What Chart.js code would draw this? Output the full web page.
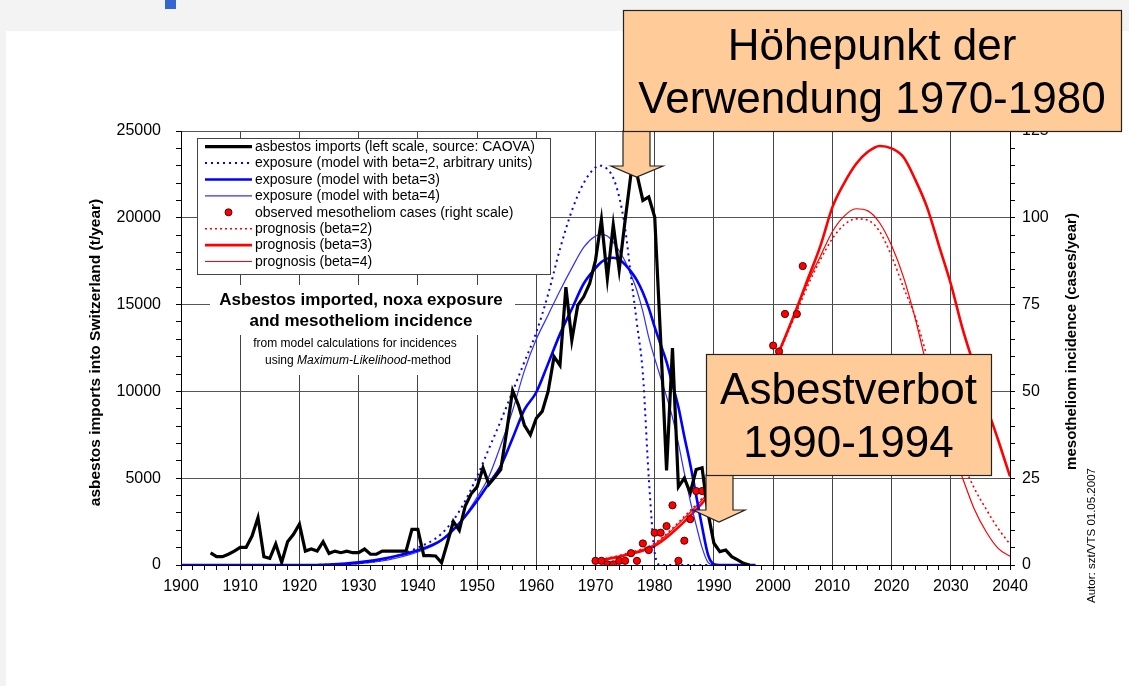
<!DOCTYPE html>
<html>
<head>
<meta charset="utf-8">
<script src="https://cdn.jsdelivr.net/npm/chart.js@4.4.1/dist/chart.umd.min.js"></script>
<style>
  html, body { margin: 0; padding: 0; background: #f3f3f3; }
  canvas { display: block; }
</style>
</head>
<body>
<canvas id="chart" width="1129" height="686"></canvas>
<script>
// asbestos imports into Switzerland (t/year), left scale
const importYears = [1905, 1906, 1907, 1908, 1909, 1910, 1911, 1912, 1913, 1914, 1915, 1916, 1917, 1918, 1919,
  1920, 1921, 1922, 1923, 1924, 1925, 1926, 1927, 1928, 1929, 1930, 1931, 1932, 1933, 1934, 1935, 1936, 1937,
  1938, 1939, 1940, 1941, 1942, 1943, 1944, 1945, 1946, 1947, 1948, 1949, 1950, 1951, 1952, 1953, 1954, 1955,
  1956, 1957, 1958, 1959, 1960, 1961, 1962, 1963, 1964, 1965, 1966, 1967, 1968, 1969, 1970, 1971, 1972, 1973,
  1974, 1975, 1976, 1977, 1978, 1979, 1980, 1981, 1982, 1983, 1984, 1985, 1986, 1987, 1988, 1989, 1990, 1991,
  1992, 1993, 1994, 1995, 1996];
const importValues = [700, 480, 480, 620, 800, 1020, 1020, 1670, 2730, 480, 380, 1210, 150, 1340, 1770,
  2360, 800, 920, 800, 1340, 670, 800, 710, 800, 710, 710, 920, 620, 620, 800, 800, 800, 800,
  800, 2050, 2050, 540, 540, 520, 130, 1300, 2500, 2000, 3400, 4100, 4500, 5600, 4650, 5050, 5500, 7700,
  10050, 9200, 8050, 7500, 8450, 8850, 10000, 12000, 11500, 16000, 12950, 14950, 15450, 16200, 17550, 19900, 16500, 19600,
  17000, 19850, 22550, 22500, 21000, 21200, 20050, 13000, 5450, 12500, 4500, 5000, 4150, 5500, 5600, 3000, 1250, 770,
  860, 480, 300, 100, 0];

// model exposure (arbitrary units on left scale)
const exposureYears = [1900, 1920, 1925, 1930, 1935, 1940, 1944, 1947, 1950, 1952, 1954, 1956, 1958, 1960,
  1962, 1964, 1966, 1968, 1970, 1971, 1972, 1973, 1974, 1975, 1976, 1977, 1978, 1979, 1980, 1981, 1982,
  1983, 1984, 1985, 1986, 1987, 1988, 1989, 1990, 1991, 1997];
const exposureBeta2 = [0, 0, 20, 100, 380, 1000, 1800, 3100, 5100, 6700, 8300, 10000, 11700, 13400,
  15600, 18200, 20400, 22000, 22900, 23000, 22800, 22300, 21200, 19400, 16600, 13900, 11000, 5000, 700, 0, 0,
  0, 0, 0, 0, 0, 0, 0, 0, 0, 0];
const exposureBeta3 = [0, 0, 30, 150, 420, 850, 1440, 2400, 3700, 4700, 5700, 7300, 8950, 9950,
  11600, 13300, 14750, 16200, 17100, 17450, 17650, 17700, 17600, 17300, 16900, 16400, 15700, 14800, 13700, 12700, 11700,
  10400, 9100, 7400, 5800, 4000, 2200, 600, 50, 0, 0];
const exposureBeta4 = [0, 0, 10, 80, 300, 750, 1400, 2400, 3900, 5100, 6900, 8900, 11200, 13000,
  14400, 15800, 17100, 18300, 18950, 19050, 18950, 18600, 18100, 17500, 16700, 15800, 14600, 13100, 11900, 10800, 9700,
  8500, 7000, 5300, 3700, 2300, 1000, 150, 0, 0, 0];

// observed mesotheliom cases (right scale)
const observedYears = [1970, 1971, 1972, 1973, 1974, 1975, 1976, 1977, 1978, 1979, 1980, 1981, 1982, 1983,
  1984, 1985, 1986, 1987, 1988, 2000, 2001, 2002, 2004, 2005];
const observedCases = [1.2, 1.2, 0.2, 0.2, 1.2, 1.2, 3.4, 1.2, 6.2, 4.3, 9.3, 9.3, 11.2, 17.2,
  1.2, 7, 13.2, 21.3, 21.3, 63.2, 61.5, 72.3, 72.3, 86.1];

// prognosis of incidence (right scale)
const prognosisYears = [1970, 1975, 1980, 1985, 1990, 1995, 2000, 2002, 2004, 2006, 2008, 2010, 2012, 2014,
  2016, 2018, 2020, 2022, 2024, 2026, 2028, 2030, 2032, 2034, 2036, 2038, 2040];
const prognosisBeta2 = [1.3, 3.2, 6.3, 14, 23.5, 38.5, 57, 65, 73, 81, 88, 94, 98, 99.7,
  99.3, 96, 89, 80, 71.5, 60, 48.5, 38, 29.5, 22, 16, 10.5, 6];
const prognosisBeta3 = [1, 2.8, 5.5, 12.5, 22, 37, 57.5, 65.5, 74, 83, 92, 103, 110, 115.5,
  119, 120.7, 120, 117.5, 111, 103, 92, 81, 68, 57, 46, 36, 25.5];
const prognosisBeta4 = [1.2, 3, 6, 13.5, 23, 38, 57, 65.5, 74, 82, 89, 96, 100.5, 102.6,
  102, 98.5, 92, 83, 71, 57, 45.5, 34, 25, 16, 9.5, 4.8, 2.5];

const FONT = "'Liberation Sans', Arial, Helvetica, sans-serif";
const pts = (xs, ys) => xs.map((x, i) => ({ x: x, y: ys[i] }));

// page background, title block, legend, labels and the two callouts
const decor = {
  id: 'decor',
  beforeDraw(chart) {
    const c = chart.ctx;
    c.save();
    c.fillStyle = '#f3f3f3';
    c.fillRect(0, 0, 1129, 686);
    c.fillStyle = '#ffffff';
    c.fillRect(6, 31, 1123, 655);
    c.fillStyle = '#3566d0';
    c.fillRect(165, 0, 11, 9);
    c.restore();
  },
  beforeDatasetsDraw(chart) {
    const c = chart.ctx;
    c.save();
    c.fillStyle = '#ffffff';
    c.fillRect(210, 285, 305, 50);
    c.fillRect(245, 335, 225, 40);
    c.fillStyle = '#000';
    c.textAlign = 'center';
    c.textBaseline = 'middle';
    c.font = 'bold 17px ' + FONT;
    c.fillText('Asbestos imported, noxa exposure', 361, 300);
    c.fillText('and mesotheliom incidence', 361, 321);
    c.font = '12px ' + FONT;
    c.fillText('from model calculations for incidences', 355, 344);
    // mixed upright / italic line
    const parts = [['using ', '12px '], ['Maximum-Likelihood', 'italic 12px '], ['-method', '12px ']];
    let total = 0;
    parts.forEach(p => { c.font = p[1] + FONT; total += c.measureText(p[0]).width; });
    let x = 358 - total / 2;
    c.textAlign = 'left';
    parts.forEach(p => { c.font = p[1] + FONT; c.fillText(p[0], x, 361); x += c.measureText(p[0]).width; });
    c.restore();
  },
  afterDatasetsDraw(chart) {
    const c = chart.ctx;
    c.save();
    c.fillStyle = '#ffffff';
    c.fillRect(197, 138, 353, 136);
    c.strokeStyle = '#444';
    c.lineWidth = 1;
    c.strokeRect(197.5, 138.5, 353, 136);
    chart.data.datasets.forEach((ds, i) => {
      const y = 146.7 + i * 16.4;
      if (ds.showLine === false) {
        c.beginPath();
        c.arc(228.5, y, 3.5, 0, Math.PI * 2);
        c.fillStyle = ds.pointBackgroundColor;
        c.fill();
        c.strokeStyle = ds.pointBorderColor;
        c.lineWidth = 1;
        c.stroke();
      } else {
        c.beginPath();
        c.setLineDash(ds.borderDash || []);
        c.strokeStyle = ds.borderColor;
        c.lineWidth = ds.borderWidth;
        c.moveTo(205, y);
        c.lineTo(252, y);
        c.stroke();
        c.setLineDash([]);
      }
      c.fillStyle = '#000';
      c.font = '14px ' + FONT;
      c.textAlign = 'left';
      c.textBaseline = 'middle';
      c.fillText(ds.label, 255, y + 0.5);
    });
    c.restore();
  },
  afterDraw(chart) {
    const c = chart.ctx;
    const rotated = (text, x, y, font) => {
      c.save();
      c.translate(x, y);
      c.rotate(-Math.PI / 2);
      c.font = font;
      c.fillStyle = '#000';
      c.textAlign = 'center';
      c.textBaseline = 'middle';
      c.fillText(text, 0, 0);
      c.restore();
    };
    rotated('asbestos imports into Switzerland (t/year)', 95.5, 352.5, 'bold 15.5px ' + FONT);
    rotated('mesotheliom incidence (cases/year)', 1071.5, 341.5, 'bold 15px ' + FONT);
    rotated('Autor: szt/VTS 01.05.2007', 1091.5, 535.5, '11.5px ' + FONT);

    const callout = (box, ar, lines, cx) => {
      c.save();
      c.fillStyle = '#ffcc99';
      c.strokeStyle = '#222';
      c.lineWidth = 1.2;
      c.beginPath();
      c.moveTo(ar.l, box[3]);
      c.lineTo(ar.r, box[3]);
      c.lineTo(ar.r, ar.sb);
      c.lineTo(ar.hr, ar.sb);
      c.lineTo(ar.tx, ar.ty);
      c.lineTo(ar.hl, ar.sb);
      c.lineTo(ar.l, ar.sb);
      c.closePath();
      c.fill();
      c.stroke();
      c.fillRect(box[0], box[1], box[2] - box[0], box[3] - box[1]);
      c.strokeRect(box[0] + 0.5, box[1] + 0.5, box[2] - box[0], box[3] - box[1]);
      c.fillStyle = '#000';
      c.font = '44px ' + FONT;
      c.textAlign = 'center';
      c.textBaseline = 'alphabetic';
      lines.forEach(l => c.fillText(l[0], cx, l[1]));
      c.restore();
    };
    callout([623, 10, 1121, 131],
      { l: 623, r: 650, sb: 166, hl: 611, hr: 663, tx: 636.5, ty: 177 },
      [['Höhepunkt der', 60], ['Verwendung 1970-1980', 113]], 872);
    callout([706, 354, 991, 475],
      { l: 706, r: 733, sb: 510, hl: 693, hr: 745, tx: 719, ty: 522 },
      [['Asbestverbot', 404], ['1990-1994', 457]], 848.5);
  }
};

const tickFont = { family: FONT, size: 16 };

new Chart(document.getElementById('chart'), {
  type: 'line',
  data: {
    datasets: [
      {
        label: 'asbestos imports (left scale, source: CAOVA)',
        data: pts(importYears, importValues),
        borderColor: '#000000', borderWidth: 3.2, tension: 0,
        yAxisID: 'y', order: 0
      },
      {
        label: 'exposure (model with beta=2, arbitrary units)',
        data: pts(exposureYears, exposureBeta2),
        borderColor: '#0000ff', borderWidth: 2, borderDash: [2, 4],
        cubicInterpolationMode: 'monotone', yAxisID: 'y', order: 2
      },
      {
        label: 'exposure (model with beta=3)',
        data: pts(exposureYears, exposureBeta3),
        borderColor: '#0000ff', borderWidth: 2.6,
        cubicInterpolationMode: 'monotone', yAxisID: 'y', order: 2
      },
      {
        label: 'exposure (model with beta=4)',
        data: pts(exposureYears, exposureBeta4),
        borderColor: '#3030ff', borderWidth: 1.2,
        cubicInterpolationMode: 'monotone', yAxisID: 'y', order: 2
      },
      {
        label: 'observed mesotheliom cases (right scale)',
        data: pts(observedYears, observedCases),
        showLine: false, pointRadius: 3.6, pointBorderWidth: 1,
        pointBackgroundColor: '#ff0000', pointBorderColor: '#5a0000',
        yAxisID: 'y2', order: 1
      },
      {
        label: 'prognosis (beta=2)',
        data: pts(prognosisYears, prognosisBeta2),
        borderColor: '#ff0000', borderWidth: 1.6, borderDash: [2, 3],
        cubicInterpolationMode: 'monotone', yAxisID: 'y2', order: 3
      },
      {
        label: 'prognosis (beta=3)',
        data: pts(prognosisYears, prognosisBeta3),
        borderColor: '#ff0000', borderWidth: 2.6,
        cubicInterpolationMode: 'monotone', yAxisID: 'y2', order: 3
      },
      {
        label: 'prognosis (beta=4)',
        data: pts(prognosisYears, prognosisBeta4),
        borderColor: '#ff0000', borderWidth: 1.2,
        cubicInterpolationMode: 'monotone', yAxisID: 'y2', order: 3
      }
    ]
  },
  options: {
    responsive: false,
    devicePixelRatio: 1,
    animation: false,
    layout: { padding: { top: 131, left: 0, right: 0, bottom: 0 } },
    elements: { point: { radius: 0 } },
    plugins: { legend: { display: false }, tooltip: { enabled: false } },
    scales: {
      x: {
        type: 'linear', position: 'bottom', min: 1900, max: 2040,
        afterFit: s => { s.height = 121; },
        border: { display: true, color: '#000', width: 1 },
        grid: {
          color: ctx => (ctx.tick && ctx.tick.value % 10 === 0) ? '#444' : 'transparent',
          tickColor: '#000', tickLength: 5, lineWidth: 1
        },
        ticks: {
          stepSize: 2, autoSkip: false, maxRotation: 0, padding: 7,
          color: '#000', font: tickFont,
          callback: v => (v % 10 === 0 ? String(v) : '')
        }
      },
      y: {
        position: 'left', min: 0, max: 25000,
        afterFit: s => { s.width = 181; },
        border: { display: true, color: '#000', width: 1 },
        grid: {
          color: ctx => (ctx.tick && ctx.tick.value % 5000 === 0) ? '#555' : 'transparent',
          tickColor: '#000', tickLength: 5, lineWidth: 1
        },
        ticks: {
          stepSize: 1000, autoSkip: false, padding: 15,
          color: '#000', font: tickFont,
          callback: v => (v % 5000 === 0 ? String(v) : '')
        }
      },
      y2: {
        position: 'right', min: 0, max: 125,
        afterFit: s => { s.width = 119; },
        border: { display: true, color: '#000', width: 1 },
        grid: { drawOnChartArea: false, tickColor: '#000', tickLength: 5 },
        ticks: {
          stepSize: 5, autoSkip: false, padding: 7,
          color: '#000', font: tickFont,
          callback: v => (v % 25 === 0 ? String(v) : '')
        }
      }
    }
  },
  plugins: [decor]
});
</script>
</body>
</html>
